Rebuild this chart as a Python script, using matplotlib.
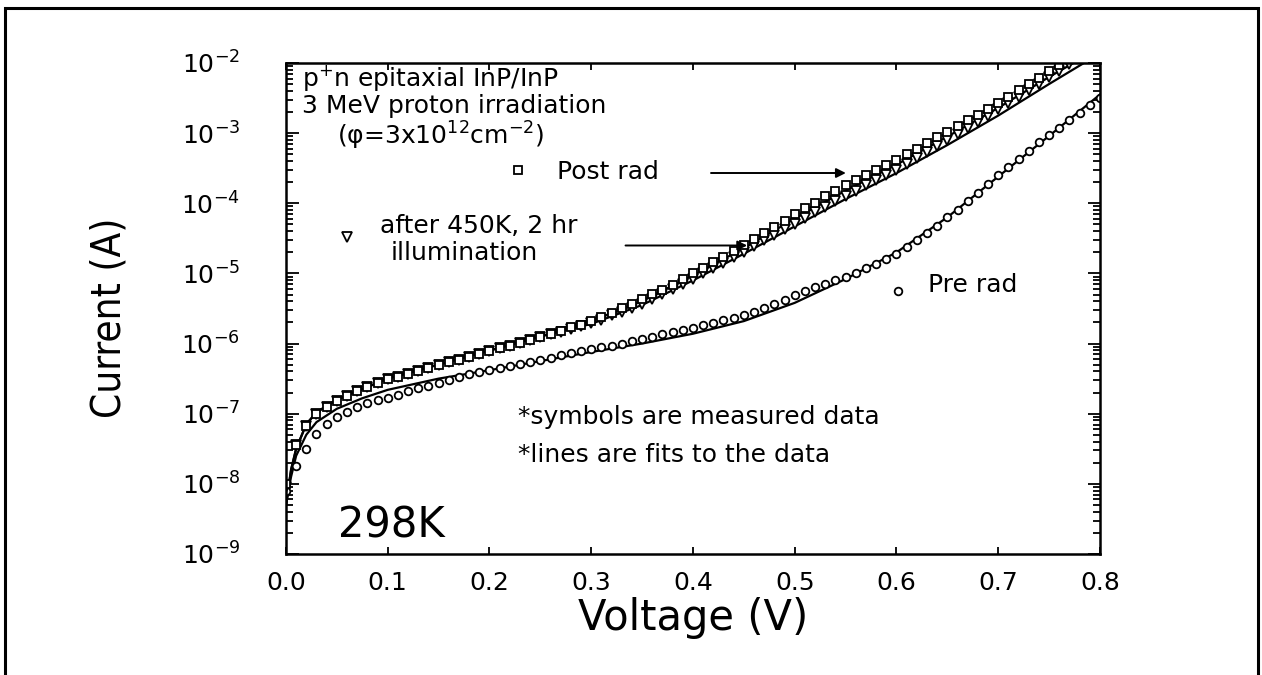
"""
	plot.py - I-V curves of p+n InP/InP cell, pre/post 3 MeV proton irradiation
"""
import numpy as np
import matplotlib.pyplot as plt
from matplotlib.patches import Rectangle
from matplotlib.ticker import FixedLocator, LogLocator, NullFormatter

plt.rcParams['font.family'] = ['DejaVu Sans']
plt.rcParams['mathtext.default'] = 'regular'

# measured data, log10(current in A), voltage sweep in 0.01 V steps
v_pre = np.round(np.arange(0.0, 0.801, 0.01), 2)
log_pre = [-8.10, -7.75, -7.50, -7.29, -7.15, -7.05, -6.97, -6.90, -6.85, -6.81,
           -6.77, -6.73, -6.68, -6.64, -6.60, -6.56, -6.52, -6.48, -6.44, -6.41,
           -6.38, -6.35, -6.32, -6.29, -6.26, -6.23, -6.20, -6.16, -6.13, -6.10,
           -6.08, -6.05, -6.03, -6.00, -5.97, -5.94, -5.91, -5.87, -5.84, -5.81,
           -5.78, -5.74, -5.71, -5.67, -5.63, -5.60, -5.55, -5.50, -5.44, -5.38,
           -5.31, -5.25, -5.20, -5.15, -5.10, -5.05, -4.99, -4.93, -4.86, -4.79,
           -4.72, -4.63, -4.53, -4.43, -4.32, -4.20, -4.09, -3.97, -3.85, -3.73,
           -3.60, -3.48, -3.37, -3.25, -3.13, -3.02, -2.92, -2.81, -2.71, -2.60,
           -2.50]

v_post = np.round(np.arange(0.0, 0.761, 0.01), 2)
log_post = [-8.00, -7.45, -7.18, -7.00, -6.90, -6.82, -6.75, -6.68, -6.62, -6.56,
            -6.51, -6.47, -6.43, -6.39, -6.35, -6.31, -6.27, -6.23, -6.19, -6.15,
            -6.11, -6.07, -6.03, -5.99, -5.95, -5.91, -5.86, -5.82, -5.77, -5.73,
            -5.68, -5.62, -5.56, -5.50, -5.44, -5.37, -5.30, -5.23, -5.16, -5.08,
            -5.00, -4.92, -4.84, -4.76, -4.68, -4.60, -4.51, -4.43, -4.34, -4.25,
            -4.16, -4.07, -3.99, -3.90, -3.82, -3.74, -3.67, -3.59, -3.52, -3.45,
            -3.38, -3.30, -3.22, -3.14, -3.06, -2.98, -2.90, -2.82, -2.74, -2.66,
            -2.57, -2.48, -2.39, -2.30, -2.21, -2.12, -2.03]

v_ill = np.round(np.arange(0.0, 0.771, 0.01), 2)
log_ill = [-8.05, -7.45, -7.18, -7.00, -6.90, -6.82, -6.75, -6.68, -6.62, -6.56,
           -6.51, -6.47, -6.43, -6.39, -6.35, -6.31, -6.27, -6.23, -6.19, -6.15,
           -6.11, -6.07, -6.03, -5.99, -5.95, -5.91, -5.87, -5.83, -5.79, -5.75,
           -5.71, -5.66, -5.60, -5.55, -5.49, -5.43, -5.36, -5.29, -5.22, -5.15,
           -5.08, -5.00, -4.93, -4.85, -4.77, -4.69, -4.61, -4.53, -4.45, -4.37,
           -4.29, -4.21, -4.13, -4.05, -3.97, -3.89, -3.82, -3.74, -3.67, -3.59,
           -3.52, -3.44, -3.35, -3.27, -3.18, -3.10, -3.01, -2.92, -2.84, -2.75,
           -2.66, -2.57, -2.48, -2.39, -2.30, -2.20, -2.11, -2.02]

# fitted curves
v_fit_pre = [0.0, 0.005, 0.01, 0.02, 0.03, 0.05, 0.075, 0.1, 0.15, 0.2, 0.25,
             0.3, 0.35, 0.4, 0.45, 0.5, 0.55, 0.6, 0.65, 0.7, 0.75, 0.8]
log_fit_pre = [-8.3, -7.9, -7.6, -7.3, -7.12, -6.93, -6.78, -6.66, -6.5, -6.38, -6.25,
               -6.12, -6.0, -5.86, -5.68, -5.42, -5.08, -4.7, -4.2, -3.62, -3.04, -2.45]

v_fit_post = [0.0, 0.005, 0.01, 0.02, 0.03, 0.05, 0.1, 0.15, 0.2, 0.25, 0.3,
              0.35, 0.4, 0.45, 0.5, 0.55, 0.6, 0.65, 0.7, 0.75, 0.78]
log_fit_post = [-8.3, -7.8, -7.5, -7.15, -6.98, -6.8, -6.5, -6.3, -6.1, -5.9, -5.68,
                -5.39, -5.03, -4.64, -4.22, -3.82, -3.45, -3.05, -2.64, -2.2, -1.95]

v_fit_ill = [0.0, 0.005, 0.01, 0.02, 0.03, 0.05, 0.1, 0.15, 0.2, 0.25, 0.3,
             0.35, 0.4, 0.45, 0.5, 0.55, 0.6, 0.65, 0.7, 0.75, 0.79]
log_fit_ill = [-8.3, -7.8, -7.5, -7.15, -6.98, -6.8, -6.5, -6.3, -6.1, -5.9, -5.72,
               -5.45, -5.1, -4.72, -4.33, -3.94, -3.57, -3.17, -2.75, -2.3, -1.95]

ytick_vals = [1e-9, 1e-8, 1e-7, 1e-6, 1e-5, 1e-4, 1e-3, 1e-2]
ytick_labels = ['10$^{-9}$', '10$^{-8}$', '10$^{-7}$', '10$^{-6}$',
                '10$^{-5}$', '10$^{-4}$', '10$^{-3}$', '10$^{-2}$']
xtick_vals = [0.0, 0.1, 0.2, 0.3, 0.4, 0.5, 0.6, 0.7, 0.8]

fig = plt.figure(figsize=(12.62, 6.75), dpi=100)
ax = fig.add_axes([0.2266, 0.1793, 0.645, 0.7274])

ax.plot(v_fit_pre, 10 ** np.array(log_fit_pre), 'k-', lw=1.6)
ax.plot(v_fit_post, 10 ** np.array(log_fit_post), 'k-', lw=1.6)
ax.plot(v_fit_ill, 10 ** np.array(log_fit_ill), 'k-', lw=1.6)
ax.plot(v_pre, 10 ** np.array(log_pre), 'o', ms=5.5, mfc='white', mec='k', mew=1.3)
ax.plot(v_ill, 10 ** np.array(log_ill), 'v', ms=6.5, mfc='white', mec='k', mew=1.3)
ax.plot(v_post, 10 ** np.array(log_post), 's', ms=6, mfc='white', mec='k', mew=1.3)

ax.set_yscale('log')
ax.set_xlim(0.0, 0.8)
ax.set_ylim(1e-9, 1e-2)
ax.yaxis.set_major_locator(FixedLocator(ytick_vals))
ax.set_yticklabels(ytick_labels)
ax.yaxis.set_minor_locator(LogLocator(base=10, subs=np.arange(2, 10)))
ax.yaxis.set_minor_formatter(NullFormatter())
ax.set_xticks(xtick_vals)
ax.set_xticklabels(['%.1f' % v for v in xtick_vals])
ax.tick_params(which='both', direction='in', top=True, right=True, width=1.3)
ax.tick_params(axis='y', which='major', length=9, labelsize=18, pad=33)
ax.tick_params(axis='y', which='minor', length=5)
ax.tick_params(axis='x', which='major', length=5, labelsize=18, pad=12)
for sp in ax.spines.values():
    sp.set_linewidth(1.8)

# annotations
txt = dict(transform=ax.transAxes, fontsize=18, va='center')
ax.text(0.0197, 0.969, 'p$^{+}$n epitaxial InP/InP', **txt)
ax.text(0.0197, 0.913, '3 MeV proton irradiation', **txt)
ax.text(0.0627, 0.851, r'($\varphi$=3x10$^{12}$cm$^{-2}$)', **txt)
ax.plot([0.285], [0.782], 's', ms=6, mfc='white', mec='k', mew=1.3, transform=ax.transAxes)
ax.text(0.333, 0.778, 'Post rad', **txt)
ax.plot([0.075], [0.646], 'v', ms=6.5, mfc='white', mec='k', mew=1.3, transform=ax.transAxes)
ax.text(0.1155, 0.668, 'after 450K, 2 hr', **txt)
ax.text(0.128, 0.613, 'illumination', **txt)
ax.plot([0.752], [0.536], 'o', ms=5.5, mfc='white', mec='k', mew=1.3, transform=ax.transAxes)
ax.text(0.789, 0.548, 'Pre rad', **txt)
ax.text(0.285, 0.279, '*symbols are measured data', **txt)
ax.text(0.285, 0.2016, '*lines are fits to the data', **txt)
ax.text(0.064, 0.059, '298K', transform=ax.transAxes, fontsize=30, va='center')

arrow = dict(arrowstyle='-|>', color='k', lw=1.4, mutation_scale=14)
ax.annotate('', xy=(0.553, 2.7e-4), xytext=(0.415, 2.7e-4), arrowprops=arrow)
ax.annotate('', xy=(0.456, 2.5e-5), xytext=(0.331, 2.5e-5), arrowprops=arrow)

fig.text(110 / 1262, 1 - 318 / 675, 'Current (A)', rotation=90, ha='center', va='center',
         fontsize=29, fontstretch='condensed', fontweight='light')
fig.text(693 / 1262, 1 - 618 / 675, 'Voltage (V)', ha='center', va='center', fontsize=30)

# outer frame
fig.patches.append(Rectangle((5 / 1262, -0.02), 1253 / 1262, 1.02 - 8 / 675,
                             transform=fig.transFigure, fill=False, lw=2.2, ec='k'))

fig.savefig('out.png', dpi=100)
